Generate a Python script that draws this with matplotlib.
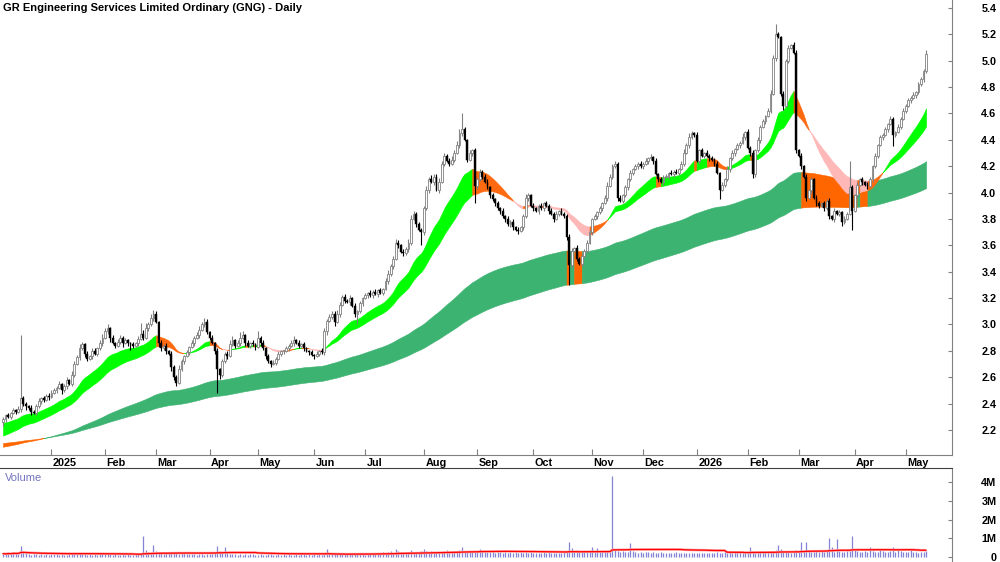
import matplotlib
matplotlib.use("Agg")
import matplotlib.pyplot as plt
import matplotlib.transforms as mtransforms
import numpy as np
import pandas as pd

plt.rcParams['font.family'] = ['Liberation Sans', 'DejaVu Sans']

TITLE = "GR Engineering Services Limited Ordinary (GNG) - Daily"
START_DATE = "2024-12-03"
HOLIDAYS = ["2024-12-25", "2024-12-26", "2025-01-01", "2025-01-27", "2025-04-18",
            "2025-04-21", "2025-04-25", "2025-06-09", "2025-12-25", "2025-12-26",
            "2026-01-01", "2026-01-26", "2026-04-03", "2026-04-06"]
FIRST_OPEN = 2.26

closes = [
    2.28, 2.31, 2.30, 2.33, 2.35, 2.34, 2.36, 2.44, 2.40, 2.38,
    2.37, 2.34, 2.33, 2.38, 2.42, 2.44, 2.43, 2.46, 2.45, 2.48,
    2.50, 2.52, 2.55, 2.50, 2.53, 2.58, 2.55, 2.62, 2.70, 2.75,
    2.82, 2.85, 2.78, 2.74, 2.76, 2.80, 2.78, 2.82, 2.86, 2.90,
    2.95, 2.97, 2.90, 2.86, 2.84, 2.87, 2.90, 2.86, 2.88, 2.86,
    2.85, 2.84, 2.86, 2.89, 2.93, 2.90, 2.97, 3.00, 3.05, 3.08,
    3.02, 2.86, 2.82, 2.84, 2.80, 2.78, 2.68, 2.60, 2.56, 2.66,
    2.72, 2.76, 2.79, 2.83, 2.86, 2.90, 2.92, 2.96, 3.00, 3.02,
    2.94, 2.90, 2.86, 2.80, 2.66, 2.62, 2.72, 2.78, 2.76, 2.85,
    2.88, 2.84, 2.86, 2.90, 2.92, 2.86, 2.84, 2.86, 2.85, 2.83,
    2.90, 2.86, 2.82, 2.76, 2.72, 2.70, 2.71, 2.74, 2.78, 2.80,
    2.80, 2.82, 2.84, 2.86, 2.88, 2.86, 2.84, 2.85, 2.82, 2.80,
    2.79, 2.77, 2.76, 2.78, 2.80, 2.79, 2.95, 3.03, 3.06, 3.08,
    3.02, 3.08, 3.15, 3.21, 3.18, 3.17, 3.20, 3.14, 3.08, 3.10,
    3.16, 3.20, 3.22, 3.24, 3.22, 3.25, 3.23, 3.26, 3.24, 3.27,
    3.33, 3.38, 3.44, 3.50, 3.62, 3.60, 3.55, 3.54, 3.57, 3.62,
    3.80, 3.84, 3.76, 3.72, 3.70, 3.88, 4.02, 4.10, 4.08, 4.12,
    4.02, 4.08, 4.22, 4.28, 4.24, 4.22, 4.25, 4.30, 4.36, 4.45,
    4.48, 4.40, 4.25, 4.30, 4.32, 4.05, 4.10, 4.16, 4.12, 4.08,
    4.04, 3.98, 3.95, 3.92, 3.88, 3.86, 3.82, 3.80, 3.76, 3.78,
    3.74, 3.72, 3.71, 3.74, 3.82, 3.96, 3.98, 3.90, 3.88, 3.86,
    3.90, 3.88, 3.92, 3.90, 3.86, 3.84, 3.80, 3.84, 3.86, 3.84,
    3.82, 3.66, 3.45, 3.56, 3.58, 3.50, 3.46, 3.52, 3.56, 3.62,
    3.70, 3.80, 3.82, 3.85, 3.88, 3.92, 3.96, 4.05, 4.12, 4.20,
    4.22, 3.96, 3.94, 3.98, 4.04, 4.10, 4.15, 4.18, 4.20, 4.22,
    4.20, 4.22, 4.24, 4.26, 4.27, 4.24, 4.14, 4.10, 4.08, 4.12,
    4.12, 4.15, 4.14, 4.16, 4.15, 4.18, 4.22, 4.30, 4.36, 4.42,
    4.45, 4.44, 4.24, 4.32, 4.28, 4.30, 4.28, 4.26, 4.25, 4.22,
    4.15, 4.02, 4.06, 4.10, 4.18, 4.26, 4.30, 4.33, 4.36, 4.38,
    4.42, 4.46, 4.34, 4.30, 4.14, 4.32, 4.40, 4.50, 4.54, 4.58,
    4.62, 4.75, 5.02, 5.20, 5.18, 4.75, 4.66, 5.00, 5.10, 5.12,
    5.06, 4.32, 4.28, 4.20, 4.12, 3.96, 4.02, 4.10, 3.96, 3.92,
    3.90, 3.92, 3.88, 3.94, 3.82, 3.80, 3.86, 3.84, 3.85, 3.78,
    3.80, 3.84, 4.04, 3.86, 3.98, 4.06, 4.10, 4.08, 4.06, 4.05,
    4.10, 4.20, 4.28, 4.36, 4.42, 4.44, 4.48, 4.52, 4.56, 4.44,
    4.46, 4.50, 4.56, 4.62, 4.66, 4.70, 4.72, 4.74, 4.76, 4.82,
    4.86, 4.92, 5.05,
]

wick_up_cents = [
    2, 1, 2, 1, 2, 1, 2, 48, 2, 1,
    1, 2, 1, 2, 2, 1, 2, 1, 2, 2,
    2, 1, 2, 1, 2, 2, 1, 3, 2, 2,
    3, 2, 1, 2, 1, 2, 2, 1, 2, 3,
    2, 3, 1, 2, 1, 2, 2, 1, 2, 1,
    1, 2, 1, 2, 8, 3, 4, 2, 3, 3,
    2, 1, 2, 1, 2, 1, 2, 1, 2, 3,
    2, 1, 2, 1, 2, 1, 2, 3, 2, 3,
    2, 1, 2, 1, 2, 1, 2, 1, 2, 3,
    3, 1, 2, 4, 3, 1, 2, 1, 2, 1,
    5, 1, 2, 1, 2, 1, 2, 1, 2, 1,
    1, 2, 1, 2, 3, 1, 2, 1, 2, 1,
    1, 2, 1, 2, 1, 2, 2, 1, 2, 2,
    2, 3, 2, 1, 2, 1, 2, 1, 2, 1,
    2, 1, 2, 1, 2, 1, 2, 1, 2, 1,
    2, 3, 2, 2, 3, 2, 1, 2, 2, 3,
    3, 2, 1, 2, 1, 2, 3, 2, 3, 2,
    2, 3, 2, 2, 1, 2, 3, 2, 3, 3,
    12, 2, 1, 2, 1, 2, 1, 2, 1, 2,
    2, 1, 2, 1, 2, 1, 2, 1, 2, 1,
    2, 1, 2, 1, 2, 3, 2, 1, 2, 1,
    1, 2, 1, 2, 1, 2, 1, 2, 1, 2,
    1, 2, 3, 2, 1, 2, 1, 2, 1, 2,
    2, 1, 2, 1, 2, 1, 2, 3, 2, 2,
    2, 1, 2, 1, 2, 1, 2, 1, 2, 1,
    2, 1, 2, 1, 2, 1, 2, 1, 2, 1,
    2, 1, 2, 1, 2, 1, 2, 3, 2, 3,
    2, 1, 2, 1, 2, 1, 2, 1, 2, 1,
    2, 1, 2, 1, 2, 1, 2, 1, 2, 1,
    3, 1, 2, 1, 2, 1, 2, 1, 2, 1,
    2, 3, 2, 8, 2, 1, 2, 1, 2, 1,
    2, 2, 1, 2, 1, 2, 1, 2, 1, 2,
    2, 1, 2, 1, 2, 1, 2, 1, 2, 1,
    2, 1, 20, 2, 1, 2, 1, 2, 1, 2,
    2, 1, 2, 1, 2, 1, 2, 1, 2, 1,
    1, 2, 1, 2, 1, 2, 1, 2, 1, 2,
    2, 2, 3,
]

wick_down_cents = [
    3, 2, 1, 2, 1, 2, 1, 2, 2, 3,
    2, 3, 1, 2, 1, 2, 2, 1, 2, 1,
    1, 2, 1, 3, 1, 2, 1, 2, 2, 1,
    2, 1, 3, 2, 1, 2, 1, 2, 1, 2,
    1, 2, 3, 1, 2, 1, 2, 3, 1, 2,
    4, 2, 1, 2, 1, 2, 1, 2, 1, 2,
    1, 3, 2, 1, 2, 1, 3, 2, 3, 1,
    1, 2, 1, 2, 1, 2, 1, 2, 1, 2,
    1, 2, 1, 2, 18, 3, 2, 1, 2, 1,
    1, 2, 1, 2, 1, 2, 1, 2, 1, 2,
    1, 2, 1, 2, 1, 2, 1, 2, 1, 2,
    2, 1, 2, 1, 2, 1, 2, 1, 2, 1,
    2, 1, 2, 1, 2, 1, 2, 3, 1, 2,
    3, 1, 2, 1, 2, 1, 2, 1, 2, 8,
    1, 2, 1, 2, 1, 2, 1, 2, 1, 2,
    1, 2, 1, 2, 1, 2, 1, 2, 1, 2,
    2, 1, 2, 1, 10, 2, 1, 2, 1, 2,
    1, 2, 1, 2, 1, 2, 1, 2, 1, 2,
    2, 1, 2, 1, 2, 13, 2, 1, 2, 1,
    1, 2, 1, 2, 1, 2, 1, 2, 1, 2,
    2, 1, 2, 1, 2, 1, 2, 1, 2, 1,
    2, 1, 2, 1, 2, 1, 2, 1, 2, 1,
    1, 2, 15, 2, 1, 2, 1, 2, 1, 2,
    1, 2, 1, 2, 1, 2, 1, 2, 1, 2,
    1, 2, 1, 2, 1, 2, 1, 2, 1, 2,
    1, 2, 1, 2, 1, 2, 1, 2, 1, 2,
    1, 2, 1, 2, 1, 2, 1, 2, 1, 2,
    1, 2, 1, 2, 1, 2, 1, 2, 1, 2,
    1, 7, 1, 2, 1, 2, 1, 2, 1, 2,
    1, 2, 1, 2, 3, 2, 1, 2, 1, 2,
    1, 2, 1, 2, 1, 2, 3, 1, 2, 1,
    1, 2, 1, 2, 1, 2, 1, 2, 1, 2,
    2, 1, 2, 1, 2, 1, 2, 1, 2, 3,
    2, 1, 1, 14, 1, 2, 1, 2, 1, 2,
    1, 2, 1, 2, 1, 2, 1, 2, 1, 9,
    2, 1, 2, 1, 2, 1, 2, 1, 2, 1,
    1, 2, 1,
]

volume_thousands = [
    180, 150, 220, 160, 250, 200, 170, 600, 280, 190,
    150, 120, 170, 140, 110, 160, 130, 180, 120, 150,
    170, 140, 120, 160, 130, 110, 150, 200, 240, 180,
    220, 160, 140, 130, 170, 120, 150, 110, 140, 160,
    190, 170, 140, 120, 160, 130, 110, 140, 120, 150,
    130, 110, 170, 150, 200, 1100, 350, 280, 230, 650,
    300, 260, 210, 180, 250, 190, 230, 280, 200, 170,
    220, 190, 150, 170, 140, 160, 130, 180, 150, 120,
    160, 140, 180, 230, 600, 300, 250, 550, 220, 180,
    160, 140, 120, 170, 130, 150, 110, 140, 160, 120,
    130, 150, 120, 110, 160, 140, 130, 120, 150, 110,
    140, 120, 160, 130, 110, 150, 120, 170, 140, 130,
    160, 120, 140, 110, 150, 130, 170, 450, 220, 190,
    180, 160, 210, 150, 230, 170, 140, 190, 160, 200,
    150, 170, 130, 160, 190, 140, 220, 170, 150, 260,
    210, 280, 320, 240, 450, 300, 260, 220, 280, 240,
    400, 250, 210, 280, 320, 450, 300, 270, 310, 260,
    230, 290, 250, 310, 400, 280, 330, 250, 290, 360,
    550, 340, 280, 320, 260, 300, 280, 450, 310, 270,
    290, 260, 310, 240, 280, 250, 230, 270, 220, 260,
    240, 280, 210, 260, 230, 290, 220, 250, 200, 240,
    230, 210, 260, 190, 250, 220, 200, 240, 210, 230,
    260, 300, 800, 500, 330, 400, 280, 310, 260, 290,
    300, 550, 320, 500, 280, 300, 260, 320, 290, 4300,
    400, 320, 280, 300, 260, 290, 750, 310, 270, 240,
    260, 230, 280, 250, 220, 270, 240, 210, 260, 230,
    220, 240, 210, 200, 250, 220, 190, 230, 210, 240,
    210, 230, 200, 220, 190, 240, 210, 230, 200, 220,
    250, 230, 210, 350, 240, 260, 220, 280, 300, 250,
    230, 270, 240, 550, 260, 240, 280, 300, 260, 310,
    280, 320, 260, 350, 650, 450, 300, 280, 250, 240,
    260, 350, 290, 800, 320, 800, 300, 260, 280, 310,
    290, 320, 260, 300, 1000, 550, 280, 950, 300, 260,
    280, 320, 300, 1100, 450, 300, 260, 280, 320, 290,
    550, 310, 280, 290, 400, 300, 260, 280, 300, 550,
    280, 450, 300, 270, 260, 290, 350, 280, 260, 240,
    260, 280, 300,
]

SHORT_RIBBON = [(20, 2.25), (35, 2.15)]
LONG_RIBBON = [(130, 2.07), (210, 2.10)]
VOLUME_MA = 45

price_ticks = [2.2, 2.4, 2.6, 2.8, 3.0, 3.2, 3.4, 3.6, 3.8, 4.0, 4.2, 4.4, 4.6, 4.8, 5.0, 5.2, 5.4]
volume_ticks = [0, 1, 2, 3, 4]
volume_tick_labels = ["0", "1M", "2M", "3M", "4M"]

# ---------------------------------------------------------------------------
n = len(closes)
dates = pd.bdate_range(start=START_DATE, periods=n, freq="C", holidays=HOLIDAYS)
x = np.arange(n)
c = np.array(closes, dtype=float)
o = np.concatenate([[FIRST_OPEN], c[:-1]])
hi = np.maximum(o, c) + np.array(wick_up_cents) / 100.0
lo = np.minimum(o, c) - np.array(wick_down_cents) / 100.0
vol = np.array(volume_thousands, dtype=float) / 1000.0


def ema(span, seed):
    s = pd.Series(np.concatenate([[seed], c]))
    return s.ewm(span=span, adjust=False).mean().to_numpy()[1:]


def draw_ribbon(ax, fast, slow, colors, z):
    dfast = np.diff(fast, prepend=fast[0])
    dslow = np.diff(slow, prepend=slow[0])
    above = fast >= slow
    state = np.where(above,
                     np.where((dfast > 0) & (dslow > 0), 0, 1),
                     np.where(dslow <= 0, 2, 1))
    state[0] = state[1]
    i = 0
    while i < n:
        j = i
        while j + 1 < n and state[j + 1] == state[i]:
            j += 1
        a = max(i - 1, 0)
        col = colors[state[i]]
        ax.fill_between(x[a:j + 1], fast[a:j + 1], slow[a:j + 1], facecolor=col,
                        edgecolor=col, linewidth=0.4, zorder=z)
        i = j + 1


W, H = 1000, 562
fig = plt.figure(figsize=(W / 100, H / 100), dpi=100)
ax = fig.add_axes([0, 107 / H, 952 / W, 455 / H])
axv = fig.add_axes([0, 0, 952 / W, 94 / H])

XL = (-3 / 2.55, (952 - 3) / 2.55)

# ribbons
f1, s1 = [ema(sp, sd) for sp, sd in SHORT_RIBBON]
f2, s2 = [ema(sp, sd) for sp, sd in LONG_RIBBON]
draw_ribbon(ax, f2, s2, ["#3cb371", "#ff6600", "#ffb6b6"], 1)
draw_ribbon(ax, f1, s1, ["#00ff00", "#ff6a10", "#ffb8b8"], 2)

# candles
up = c >= o
ax.vlines(x[up], lo[up], hi[up], color="#808080", lw=0.8, zorder=3)
ax.vlines(x[~up], lo[~up], hi[~up], color="black", lw=0.8, zorder=3)
body_lo = np.minimum(o, c)
body_h = np.maximum(np.abs(c - o), 0.006)
ax.bar(x[up], body_h[up], bottom=body_lo[up], width=0.72, color="white",
       edgecolor="#808080", linewidth=0.6, zorder=4)
ax.bar(x[~up], body_h[~up], bottom=body_lo[~up], width=0.72, color="black",
       edgecolor="black", linewidth=0.3, zorder=4)

ax.set_xlim(*XL)
ax.set_ylim(2.0104, 5.4606)
for sp in ["top", "left"]:
    ax.spines[sp].set_visible(False)
ax.spines["right"].set_color("#808080")
ax.spines["bottom"].set_color("#808080")
ax.yaxis.tick_right()
ax.set_yticks(price_ticks)
ax.set_yticklabels([f"{t:.1f}" for t in price_ticks])
ax.tick_params(axis="y", direction="in", length=3, color="#808080",
               labelsize=7.8, pad=32)
for lab in ax.get_yticklabels():
    lab.set_horizontalalignment("right")
    lab.set_fontweight("bold")

# month ticks
month_idx = [i for i in range(1, n) if dates[i].month != dates[i - 1].month]
month_lab = [str(dates[i].year) if dates[i].month == 1 else dates[i].strftime("%b")
             for i in month_idx]
ax.set_xticks(month_idx)
ax.set_xticklabels([])
ax.tick_params(axis="x", direction="in", length=4, color="#808080")
trans = mtransforms.blended_transform_factory(ax.transData, ax.transAxes)
for i, lab in zip(month_idx, month_lab):
    ax.text(i + 0.6, -8 / 455, lab, transform=trans, ha="left", va="center",
            fontsize=7.8, fontweight="bold", color="black")

fig.text(3 / W, 1 - 8 / H, TITLE, ha="left", va="center", fontsize=8.0,
         fontweight="bold", color="black")

# volume panel
axv.vlines(x, 0, vol, color="#8484d4", lw=0.9, zorder=2)
vma = pd.Series(vol).rolling(VOLUME_MA, min_periods=1).mean().to_numpy()
axv.plot(x, vma, color="#ffa0a0", lw=1.8, zorder=3, solid_capstyle="butt")
axv.plot(x, vma, color="#ff0000", lw=0.9, zorder=4)
axv.set_xlim(*XL)
axv.set_ylim(-5 / 18.75, 89 / 18.75)
for sp in ["left", "bottom"]:
    axv.spines[sp].set_visible(False)
axv.spines["top"].set_color("#404040")
axv.spines["right"].set_color("#808080")
axv.set_xticks([])
axv.yaxis.tick_right()
axv.set_yticks(volume_ticks)
axv.set_yticklabels(volume_tick_labels)
axv.tick_params(axis="y", direction="in", length=3, color="#808080",
                labelsize=7.8, pad=32)
for lab in axv.get_yticklabels():
    lab.set_horizontalalignment("right")
    lab.set_fontweight("bold")
axv.text(5 / 952, 84 / 94, "Volume", transform=axv.transAxes, ha="left",
         va="center", fontsize=8, color="#7474c0")

fig.savefig("out.png", dpi=100)
